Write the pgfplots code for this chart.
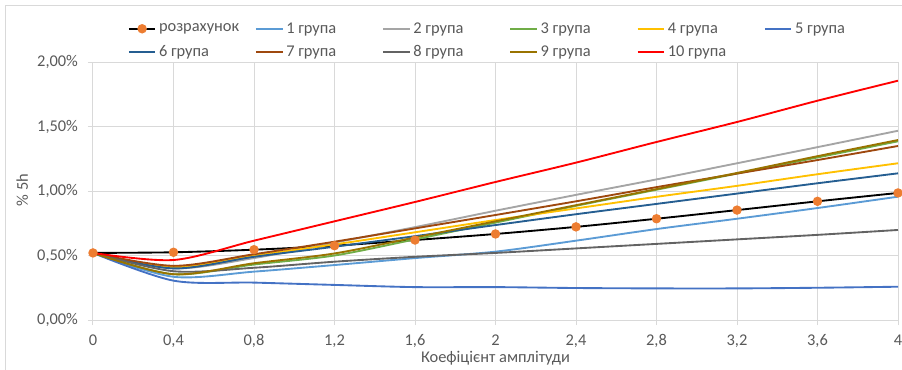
\documentclass[border=0pt]{standalone}
\usepackage{pgfplots}
\pgfplotsset{compat=1.18}
\usepackage{fontspec}
\setmainfont{Carlito}
\definecolor{txt}{HTML}{595959}
\definecolor{grd}{HTML}{D9D9D9}
\definecolor{cOr}{HTML}{ED7D31}
\definecolor{c1}{HTML}{5B9BD5}
\definecolor{c2}{HTML}{A5A5A5}
\definecolor{c3}{HTML}{70AD47}
\definecolor{c4}{HTML}{FFC000}
\definecolor{c5}{HTML}{4472C4}
\definecolor{c6}{HTML}{255E91}
\definecolor{c7}{HTML}{9E480E}
\definecolor{c8}{HTML}{636363}
\definecolor{c9}{HTML}{997300}
\definecolor{c10}{HTML}{FF0000}
\pgfplotstableread{
x    calc   g1    g2    g3    g4    g5    g6    g7    g8    g9    g10
0    0.52   0.52  0.52  0.52  0.52  0.52  0.52  0.52  0.52  0.52  0.52
0.4  0.525  0.335 0.40  0.355 0.41  0.305 0.40  0.42  0.378 0.355 0.465
0.8  0.545  0.375 0.48  0.43  0.50  0.29  0.49  0.51  0.405 0.44  0.615
1.2  0.576  0.426 0.60  0.50  0.586 0.272 0.568 0.607 0.452 0.516 0.765
1.6  0.62   0.48  0.72  0.625 0.68  0.255 0.65  0.71  0.49  0.64  0.915
2.0  0.667  0.53  0.847 0.755 0.775 0.255 0.736 0.814 0.52  0.765 1.07
2.4  0.722  0.615 0.97  0.885 0.865 0.248 0.82  0.92  0.555 0.89  1.22
2.8  0.785  0.705 1.09  1.01  0.955 0.245 0.90  1.03  0.59  1.015 1.38
3.2  0.852  0.785 1.215 1.135 1.04  0.245 0.98  1.135 0.625 1.14  1.535
3.6  0.92   0.868 1.34  1.26  1.13  0.25  1.06  1.24  0.66  1.27  1.70
4.0  0.985  0.956 1.467 1.385 1.215 0.258 1.137 1.349 0.698 1.395 1.855
}\data
\begin{document}
\begin{tikzpicture}
\useasboundingbox (0pt,0pt) rectangle (676.5pt,276.75pt);
\draw[grd, line width=0.75pt] (3.75pt,-5pt) rectangle (690pt,273pt);
\begin{axis}[
  at={(69.75pt,36.75pt)}, anchor=south west,
  scale only axis, width=603.75pt, height=193.5pt,
  xmin=0, xmax=4, ymin=0, ymax=2,
  xtick={0,0.4,0.8,1.2,1.6,2,2.4,2.8,3.2,3.6,4},
  xticklabels={0,{0,4},{0,8},{1,2},{1,6},2,{2,4},{2,8},{3,2},{3,6},4},
  ytick={0,0.5,1,1.5,2},
  yticklabels={{0,00\%},{0,50\%},{1,00\%},{1,50\%},{2,00\%}},
  /pgf/number format/assume math mode=true,
  grid=major, major grid style={grd, line width=0.75pt},
  axis line style={draw=none},
  tick align=outside, xtick pos=bottom, ytick pos=left,
  major tick length=3.75pt, major tick style={grd, line width=0.75pt},
  tick label style={font=\fontsize{12.3}{14}\selectfont, text=txt},
  xticklabel style={yshift=-3.8pt},
  yticklabel style={xshift=-4pt},
  xlabel={Коефіцієнт амплітуди}, ylabel={\% 5h},
  label style={font=\fontsize{12.3}{14}\selectfont, text=txt},
  xlabel style={at={(axis description cs:0.5,-0.148)}, anchor=center},
  ylabel style={at={(axis description cs:-0.088,0.504)}, anchor=center},
  every axis plot/.append style={line width=1.4pt, smooth, tension=0.5},
  legend columns=6,
  legend style={at={(axis description cs:0.038,1.175)}, anchor=north west,
    draw=none, fill=none, font=\fontsize{12.3}{14}\selectfont, text=txt,
    /tikz/every even column/.append style={column sep=0pt},
    row sep=4pt, nodes={inner sep=2pt}},
  legend image code/.code={\draw[mark repeat=2,mark phase=2,#1] plot coordinates {(0pt,0pt) (10pt,0pt) (20pt,0pt)};},
]
\addplot[black, mark=*, mark size=2.8pt, mark options={fill=cOr, draw=cOr}] table[x=x,y=calc]{\data};
\addlegendentry{\makebox[70pt][l]{розрахунок}}
\addplot[c1, no marks] table[x=x,y=g1]{\data};
\addlegendentry{\makebox[70pt][l]{1 група}}
\addplot[c2, no marks] table[x=x,y=g2]{\data};
\addlegendentry{\makebox[70pt][l]{2 група}}
\addplot[c3, no marks] table[x=x,y=g3]{\data};
\addlegendentry{\makebox[70pt][l]{3 група}}
\addplot[c4, no marks] table[x=x,y=g4]{\data};
\addlegendentry{\makebox[70pt][l]{4 група}}
\addplot[c5, no marks] table[x=x,y=g5]{\data};
\addlegendentry{\makebox[70pt][l]{5 група}}
\addplot[c6, no marks] table[x=x,y=g6]{\data};
\addlegendentry{\makebox[70pt][l]{6 група}}
\addplot[c7, no marks] table[x=x,y=g7]{\data};
\addlegendentry{\makebox[70pt][l]{7 група}}
\addplot[c8, no marks] table[x=x,y=g8]{\data};
\addlegendentry{\makebox[70pt][l]{8 група}}
\addplot[c9, no marks] table[x=x,y=g9]{\data};
\addlegendentry{\makebox[70pt][l]{9 група}}
\addplot[c10, no marks] table[x=x,y=g10]{\data};
\addlegendentry{\makebox[70pt][l]{10 група}}
\end{axis}
\end{tikzpicture}
\end{document}
